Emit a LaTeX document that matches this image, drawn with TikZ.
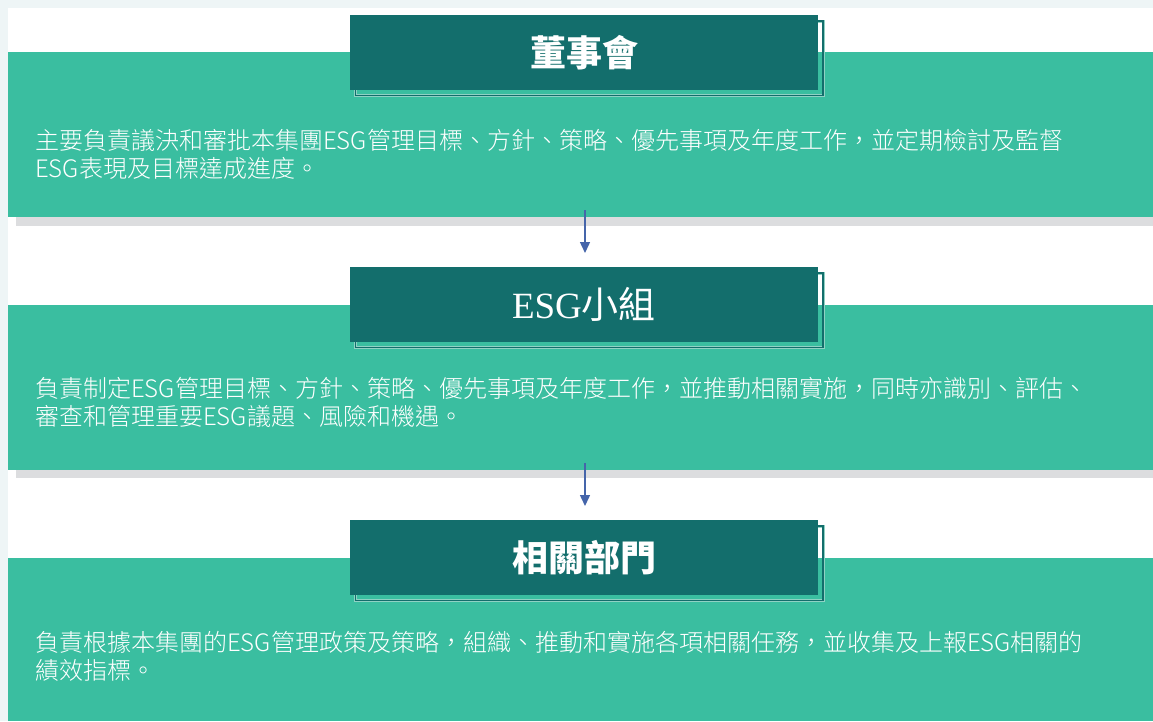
\documentclass[tikz,border=0pt]{standalone}
\usepackage{fontspec}
\setmainfont{Liberation Serif}
\newfontfamily\cjk{Noto Sans CJK TC}
\newfontfamily\cjkl{Noto Sans CJK TC}[UprightFont=* Light]
\usetikzlibrary{arrows.meta}
\definecolor{bandgreen}{HTML}{3ABEA0}
\definecolor{darkteal}{HTML}{136E6C}
\definecolor{framelight}{HTML}{8FD2C4}
\definecolor{shadowgray}{HTML}{DCDDDF}
\definecolor{arrowblue}{HTML}{4565AA}
\definecolor{edgetint}{HTML}{EEF5F6}
\tikzset{
  band/.style={rectangle, fill=bandgreen, inner sep=0pt, anchor=north west, minimum width=1145pt},
  titlebox/.style={rectangle, fill=darkteal, inner sep=0pt, minimum width=468pt, minimum height=75pt, text=white},
  bodytext/.style={anchor=base west, inner sep=0pt, text=white, align=left, font=\cjkl\fontsize{24}{28}\selectfont},
  frameouter/.style={draw=framelight, line width=3pt},
  frameinner/.style={draw=darkteal, line width=1.5pt},
  arr/.style={draw=arrowblue, line width=1.4pt, -{Triangle[width=10pt,length=11pt]}}
}
\begin{document}
\begin{tikzpicture}[x=1pt,y=-1pt]
\useasboundingbox (0,0) rectangle (1153,721);
\fill[white] (0,0) rectangle (1153,721);
\fill[edgetint] (0,0) rectangle (1153,8);
\fill[edgetint] (0,0) rectangle (8,721);
% level 1
\fill[shadowgray] (16,217) rectangle (1153,226);
\node[band, minimum height=165pt] (b1) at (8,52) {};
\path[frameouter] (355.5,21) rectangle (823,95.5);
\path[frameinner] (355.5,21) rectangle (823,95.5);
\node[titlebox, font=\cjk\bfseries\fontsize{36}{36}\selectfont] (t1) at (584,52.5) {董事會};
\node[bodytext] (p1) at (35,177) {主要負責議決和審批本集團ESG管理目標、方針、策略、優先事項及年度工作，並定期檢討及監督\\ESG表現及目標達成進度。};
% level 2
\fill[shadowgray] (16,470) rectangle (1153,478);
\node[band, minimum height=165pt] (b2) at (8,305) {};
\path[frameouter] (355.5,273) rectangle (823,347.5);
\path[frameinner] (355.5,273) rectangle (823,347.5);
\node[titlebox, font=\fontsize{37}{37}\selectfont] (t2) at (584,304.5) {ESG{\cjk 小組}};
\node[bodytext] (p2) at (35,425) {負責制定ESG管理目標、方針、策略、優先事項及年度工作，並推動相關實施，同時亦識別、評估、\\審查和管理重要ESG議題、風險和機遇。};
% level 3
\node[band, minimum height=163pt] (b3) at (8,558) {};
\path[frameouter] (355.5,526) rectangle (823,600.5);
\path[frameinner] (355.5,526) rectangle (823,600.5);
\node[titlebox, font=\cjk\bfseries\fontsize{36}{36}\selectfont] (t3) at (584,557.5) {相關部門};
\node[bodytext] (p3) at (35,679) {負責根據本集團的ESG管理政策及策略，組織、推動和實施各項相關任務，並收集及上報ESG相關的\\績效指標。};
% arrows
\coordinate (a1s) at (585,210);
\coordinate (a1e) at (585,253);
\coordinate (a2s) at (585,463);
\coordinate (a2e) at (585,506);
\draw[arr] (a1s) -- (a1e);
\draw[arr] (a2s) -- (a2e);
\end{tikzpicture}
\end{document}
